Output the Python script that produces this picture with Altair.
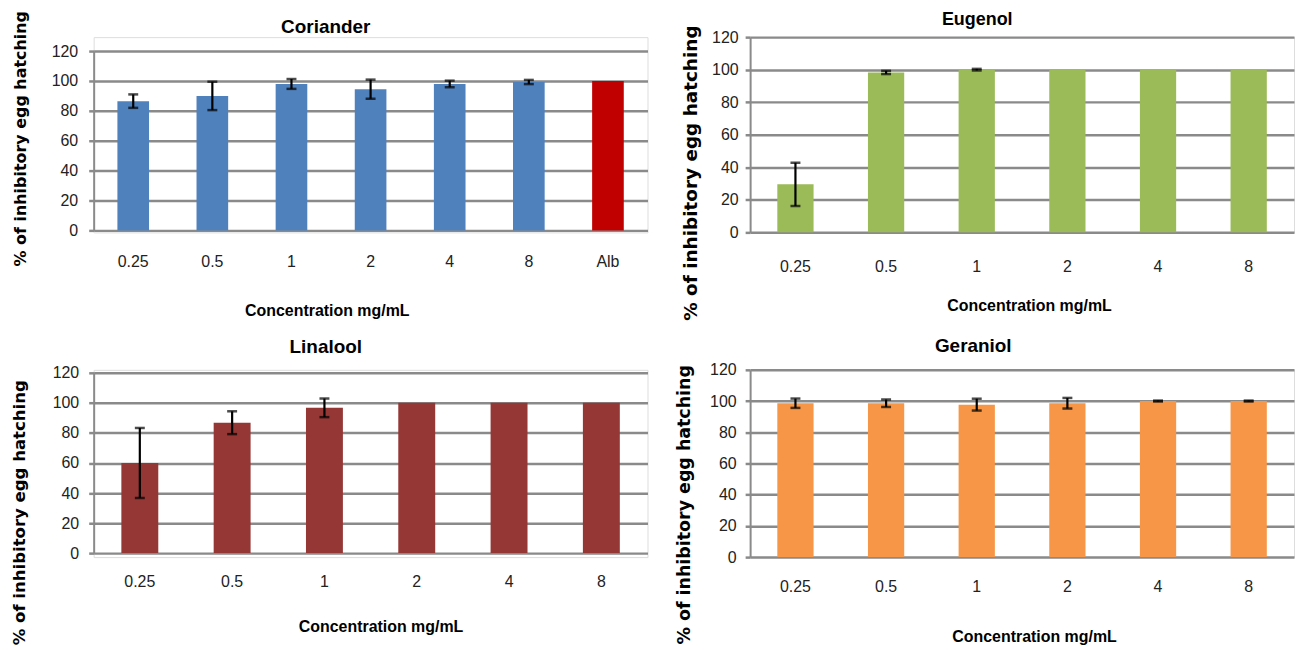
import altair as alt
import pandas as pd

# ---------------- data ----------------
conc_cor = ["0.25", "0.5", "1", "2", "4", "8", "Alb"]
cor_mean = [86.5, 90.0, 98.0, 94.5, 98.0, 99.3, 100.0]
cor_sd = [4.5, 9.5, 3.3, 6.4, 2.2, 1.4, 0.0]
cor_col = ["#4F81BD"] * 6 + ["#C00000"]

conc = ["0.25", "0.5", "1", "2", "4", "8"]
eug_mean = [29.5, 98.3, 100.0, 100.0, 100.0, 100.0]
eug_sd = [13.3, 1.0, 0.5, 0.0, 0.0, 0.0]
eug_col = ["#9BBB59"] * 6

lin_mean = [60.0, 86.8, 96.7, 100.0, 100.0, 100.0]
lin_sd = [23.3, 7.6, 6.2, 0.0, 0.0, 0.0]
lin_col = ["#953735"] * 6

ger_mean = [98.6, 98.6, 97.7, 98.6, 100.0, 100.0]
ger_sd = [3.0, 2.4, 3.8, 3.4, 0.3, 0.3]
ger_col = ["#F79646"] * 6

y_ticks = [0, 20, 40, 60, 80, 100, 120]

FONT = "Liberation Sans"
GRID = "#8a8a8a"


def panel(title, cats, means, sds, colors, width, height, yrange,
          title_size, title_dx, title_offset, ytitle_size, ytitle_x, ytitle_y,
          ylab_pad, xlab_pad, xtitle_x, xtitle_y):
    df = pd.DataFrame({"conc": cats, "mean": means, "sd": sds, "color": colors})
    df["lo"] = df["mean"] - df["sd"]
    df["hi"] = df["mean"] + df["sd"]

    x_enc = alt.X(
        "conc:N", sort=cats,
        scale=alt.Scale(paddingInner=0.6, paddingOuter=0.3),
        axis=alt.Axis(
            title="Concentration mg/mL", labelAngle=0, labelFont=FONT,
            labelFontSize=16, labelColor="#222222", labelPadding=xlab_pad,
            labelBaseline="middle", ticks=False, domain=False,
            titleFont=FONT, titleFontWeight="bold", titleFontSize=16,
            titleColor="#000000", titleX=xtitle_x, titleY=xtitle_y,
            titleBaseline="middle", titleAlign="center"),
    )
    y_axis = alt.Axis(
        title="% of inhibitory egg hatching", values=y_ticks, grid=True,
        gridColor=GRID, gridWidth=2.5, domainColor=GRID, domainWidth=2,
        tickColor=GRID, tickSize=5, tickWidth=2.5, labelFont=FONT,
        labelFontSize=16, labelColor="#222222", labelPadding=ylab_pad,
        titleFont="DejaVu Sans", titleFontWeight="bold",
        titleFontSize=ytitle_size, titleColor="#000000", titleX=ytitle_x,
        titleY=ytitle_y, titleAngle=270, titleAlign="center",
        titleBaseline="middle")
    y_scale = alt.Scale(domain=[0, 120], range=yrange)

    base = alt.Chart(df)
    bars = base.mark_bar().encode(
        x=x_enc,
        y=alt.Y("mean:Q", scale=y_scale, axis=y_axis),
        color=alt.Color("color:N", scale=None),
    )
    err_base = base.transform_filter("datum.sd > 0")
    rule = err_base.mark_rule(color="black", strokeWidth=2.2).encode(
        x=x_enc, y=alt.Y("lo:Q", scale=y_scale, axis=y_axis), y2="hi:Q")
    cap_lo = err_base.mark_tick(color="black", thickness=2.5, size=10).encode(
        x=x_enc, y=alt.Y("lo:Q", scale=y_scale, axis=y_axis))
    cap_hi = err_base.mark_tick(color="black", thickness=2.5, size=10).encode(
        x=x_enc, y=alt.Y("hi:Q", scale=y_scale, axis=y_axis))

    return alt.layer(bars, rule, cap_lo, cap_hi).properties(
        width=width, height=height,
        title=alt.TitleParams(
            text=title, font=FONT, fontWeight="bold", fontSize=title_size,
            color="#000000", anchor="middle", frame="group", dx=title_dx,
            offset=title_offset, baseline="alphabetic"),
    )


cor = panel("Coriander", conc_cor, cor_mean, cor_sd, cor_col, 556, 196, [194, 14],
            19, -45, -41.5, 16, -73, 101.5, 11, 29, 234, 78)
eug = panel("Eugenol", conc, eug_mean, eug_sd, eug_col, 546, 196, [196, 0],
            18, -45, -18, 18.5, -60, 136, 7, 34, 280, 73)
lin = panel("Linalool", conc, lin_mean, lin_sd, lin_col, 556, 188, [184, 3],
            19, -45, -7, 16.6, -74, 143, 10, 25, 288, 70)
ger = panel("Geraniol", conc, ger_mean, ger_sd, ger_col, 546, 188, [188, 0],
            19, -49, -9.5, 17.5, -66, 135, 9, 30, 285, 80)

chart = alt.concat(cor, eug, lin, ger, columns=2, align="each",
                   spacing={"row": 16, "column": 26}).properties(
    padding={"left": 3, "top": 0, "right": 0, "bottom": 0},
).configure_view(stroke=None).configure(background="white")

chart.save("out.html", embed_options={"renderer": "svg", "actions": False})
